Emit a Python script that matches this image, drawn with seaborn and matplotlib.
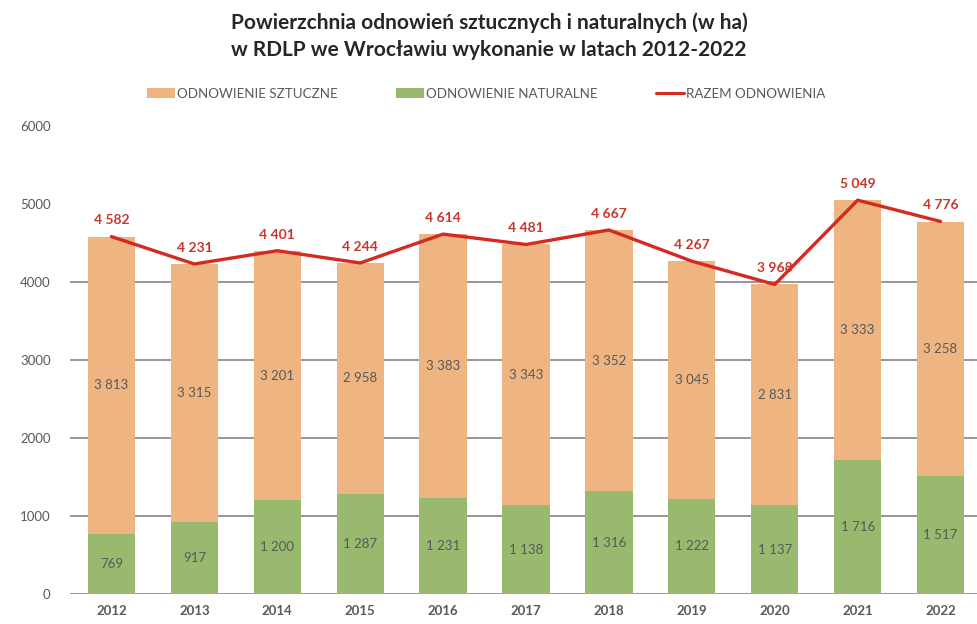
import matplotlib
matplotlib.use("Agg")
import matplotlib.pyplot as plt
import seaborn as sns
import pandas as pd
from matplotlib.patches import Patch
from matplotlib.lines import Line2D

# Data
years = ["2012", "2013", "2014", "2015", "2016", "2017", "2018", "2019", "2020", "2021", "2022"]
sztuczne = [3813, 3315, 3201, 2958, 3383, 3343, 3352, 3045, 2831, 3333, 3258]
naturalne = [769, 917, 1200, 1287, 1231, 1138, 1316, 1222, 1137, 1716, 1517]
razem = [4582, 4231, 4401, 4244, 4614, 4481, 4667, 4267, 3968, 5049, 4776]
y_ticks = [0, 1000, 2000, 3000, 4000, 5000, 6000]

ORANGE = "#EEB582"
GREEN = "#99B96F"
RED = "#D42A20"
LABEL_RED = "#C9362C"
GRAY = "#595959"

sns.set_theme(style="white")
plt.rcParams["font.family"] = ["Lato", "DejaVu Sans"]

df = pd.DataFrame({"rok": years, "sztuczne": sztuczne, "naturalne": naturalne, "razem": razem})

def fmt(v):
    return f"{v:,}".replace(",", " ")

fig = plt.figure(figsize=(9.78, 6.24), dpi=100)
ax = fig.add_axes([70 / 978, 30 / 624, 912 / 978, 468 / 624])

# gridlines (only the lower ones are visible in the source)
for t in y_ticks[:5]:
    ax.axhline(t, color="#858585", lw=1.2, zorder=0)

sns.barplot(data=df, x="rok", y="naturalne", color=GREEN, width=0.57,
            saturation=1, linewidth=0, ax=ax, zorder=2)
sns.barplot(data=df, x="rok", y="sztuczne", bottom=df["naturalne"], color=ORANGE,
            width=0.57, saturation=1, linewidth=0, ax=ax, zorder=2)
sns.pointplot(data=df, x="rok", y="razem", color=RED, markers="", linestyles="-",
              linewidth=2.4, ax=ax, zorder=3)

for i in range(len(years)):
    ax.text(i, naturalne[i] / 2, fmt(naturalne[i]), ha="center", va="center",
            fontsize=9.5, color=GRAY, zorder=4)
    ax.text(i, naturalne[i] + sztuczne[i] / 2, fmt(sztuczne[i]), ha="center", va="center",
            fontsize=9.5, color=GRAY, zorder=4)
    ax.text(i, razem[i] + 130, fmt(razem[i]), ha="center", va="bottom",
            fontsize=10, fontweight="bold", color=LABEL_RED, zorder=4)

ax.set_xlim(-0.5, 10.5)
ax.set_ylim(0, 6000)
ax.set_yticks(y_ticks)
ax.set_xlabel("")
ax.set_ylabel("")
ax.tick_params(axis="both", length=0, labelsize=9.5, labelcolor=GRAY)
ax.tick_params(axis="y", pad=14)
ax.tick_params(axis="x", pad=8)
for lbl in ax.get_xticklabels():
    lbl.set_fontweight("bold")
sns.despine(ax=ax, left=True, bottom=True)

fig.text(0.5, 0.942, "Powierzchnia odnowień sztucznych i naturalnych (w ha)\nw RDLP we Wrocławiu wykonanie w latach 2012-2022",
         ha="center", va="center", fontsize=15, fontweight="bold", color="#262626",
         linespacing=1.4)

handles = [
    Patch(facecolor=ORANGE, edgecolor="none"),
    Patch(facecolor=GREEN, edgecolor="none"),
    Line2D([0], [0], color=RED, lw=2.2),
]
labels = ["ODNOWIENIE SZTUCZNE", "ODNOWIENIE NATURALNE", "RAZEM ODNOWIENIA"]
fig.legend(handles, labels, loc="center", bbox_to_anchor=(0.497, 0.85), ncol=3,
           frameon=False, fontsize=9.6, labelcolor=GRAY, handlelength=2.1,
           handleheight=0.8, handletextpad=0.15, columnspacing=4.4)

fig.savefig("out.png", dpi=100, facecolor="white")
